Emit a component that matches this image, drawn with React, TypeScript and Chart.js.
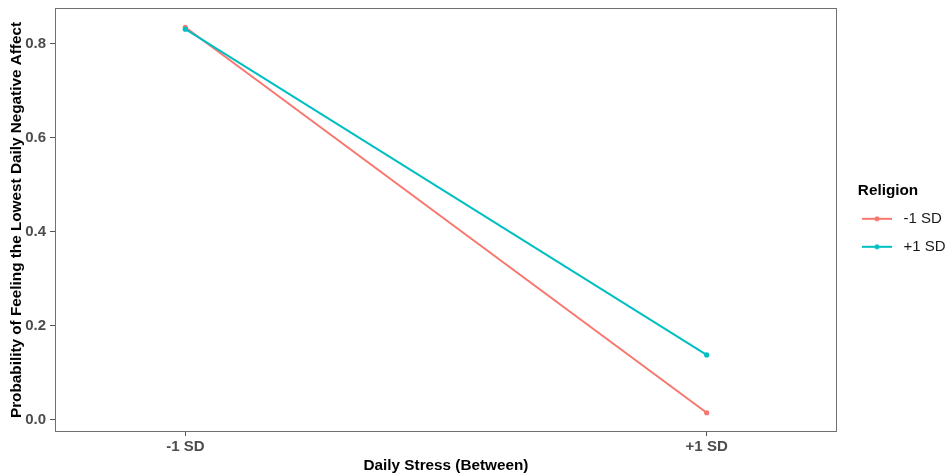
import React, { useEffect, useRef } from 'react';
import { Chart, registerables } from 'chart.js';

Chart.register(...registerables);

// ---- data ----
const categories = ['-1 SD', '+1 SD'];
const xPositions = [1, 2];
const seriesNames = ['-1 SD', '+1 SD'];
const lowReligion = [0.835, 0.015];
const highReligion = [0.831, 0.138];
const yTicks = [0.0, 0.2, 0.4, 0.6, 0.8];
const xTitle = 'Daily Stress (Between)';
const yTitle = 'Probability of Feeling the Lowest Daily Negative Affect';
const legendTitle = 'Religion';

const seriesColors = ['#F8766D', '#00BFC4'];
const FONT = "'Liberation Sans', Arial, sans-serif";

function makeLegendImage(color: string): HTMLCanvasElement {
  const c = document.createElement('canvas');
  c.width = 34;
  c.height = 8;
  const ctx = c.getContext('2d')!;
  ctx.strokeStyle = color;
  ctx.lineWidth = 2;
  ctx.beginPath();
  ctx.moveTo(0, 4);
  ctx.lineTo(30, 4);
  ctx.stroke();
  ctx.fillStyle = color;
  ctx.beginPath();
  ctx.arc(15, 4, 2.5, 0, Math.PI * 2);
  ctx.fill();
  return c;
}

export default function App() {
  const ref = useRef<HTMLCanvasElement | null>(null);

  useEffect(() => {
    document.body.style.margin = '0';
    const canvas = ref.current!;
    const imgs = seriesColors.map(makeLegendImage);

    const panelBorder = {
      id: 'panelBorder',
      afterInit(chart: any) {
        const lg = chart.legend;
        if (lg) {
          const orig = lg.fit.bind(lg);
          lg.fit = () => {
            orig();
            lg.width = 111;
          };
        }
      },
      afterLayout(chart: any) {
        const lg = chart.legend;
        if (lg) {
          lg.left = 849;
          lg.width = 78;
          lg.right = 948;
          lg.top = 183;
          lg.bottom = 475;
        }
      },
      afterDatasetsDraw(chart: any) {
        const { ctx, chartArea } = chart;
        ctx.save();
        ctx.strokeStyle = '#707070';
        ctx.lineWidth = 1;
        ctx.strokeRect(
          Math.round(chartArea.left) + 0.5,
          Math.round(chartArea.top) + 0.5,
          Math.round(chartArea.right - chartArea.left) - 1,
          Math.round(chartArea.bottom - chartArea.top) - 1
        );
        ctx.restore();
      },
    };

    const series = [lowReligion, highReligion];
    const chart = new Chart(canvas, {
      type: 'line',
      data: {
        datasets: series.map((vals, i) => ({
          label: seriesNames[i],
          data: xPositions.map((x, j) => ({ x, y: vals[j] })),
          borderColor: seriesColors[i],
          backgroundColor: seriesColors[i],
          borderWidth: 2,
          pointRadius: 2.6,
          pointBorderWidth: 0,
          pointHoverRadius: 2.6,
          order: i === 0 ? 1 : 0,
          fill: false,
          tension: 0,
        })),
      },
      options: {
        responsive: false,
        animation: false,
        events: [],
        layout: { padding: { top: 8, right: 0, left: 0, bottom: 0 } },
        scales: {
          x: {
            type: 'linear',
            min: 0.75,
            max: 2.25,
            afterBuildTicks: (s: any) => {
              s.ticks = xPositions.map((v) => ({ value: v }));
            },
            afterFit: (s: any) => {
              s.height = 43;
              s.paddingLeft = 0;
              s.paddingRight = 0;
            },
            ticks: {
              callback: (v: any) => {
                const idx = xPositions.indexOf(Number(v));
                return idx >= 0 ? categories[idx] : '';
              },
              font: { family: FONT, size: 15, weight: 'bold' },
              color: '#4D4D4D',
              padding: 2,
              autoSkip: false,
              maxRotation: 0,
            },
            grid: { drawOnChartArea: false, drawTicks: true, tickLength: 4, color: '#555555' },
            border: { display: false },
            title: {
              display: true,
              text: xTitle,
              font: { family: FONT, size: 15.3, weight: 'bold' },
              color: '#000000',
              padding: { top: 0, bottom: 0 },
            },
          },
          y: {
            type: 'linear',
            min: -0.026,
            max: 0.876,
            afterBuildTicks: (s: any) => {
              s.ticks = yTicks.map((v) => ({ value: v }));
            },
            afterFit: (s: any) => {
              s.width = 55;
              s.paddingTop = 0;
              s.paddingBottom = 0;
            },
            ticks: {
              callback: (v: any) => Number(v).toFixed(1),
              font: { family: FONT, size: 15, weight: 'bold' },
              color: '#4D4D4D',
              padding: 4,
            },
            grid: { drawOnChartArea: false, drawTicks: true, tickLength: 5, color: '#555555' },
            border: { display: false },
            title: {
              display: true,
              text: yTitle,
              font: { family: FONT, size: 15.3, weight: 'bold' },
              color: '#000000',
              padding: { top: 8, bottom: 8 },
            },
          },
        },
        plugins: {
          tooltip: { enabled: false },
          legend: {
            position: 'right',
            align: 'start',
            title: {
              display: true,
              text: legendTitle,
              position: 'center',
              font: { family: FONT, size: 15.3, weight: 'bold', lineHeight: 1.0 },
              color: '#000000',
              padding: { top: 0, bottom: 0 },
            },
            labels: {
              usePointStyle: true,
              pointStyleWidth: 34,
              padding: 13,
              color: '#1A1A1A',
              font: { family: FONT, size: 15 },
              generateLabels: (ch: any) =>
                ch.data.datasets.map((ds: any, i: number) => ({
                  text: ds.label,
                  pointStyle: imgs[i],
                  fillStyle: seriesColors[i],
                  strokeStyle: seriesColors[i],
                  lineWidth: 0,
                  hidden: false,
                  datasetIndex: i,
                  fontColor: '#1A1A1A',
                })),
            },
          },
        },
      },
      plugins: [panelBorder],
    } as any);

    return () => chart.destroy();
  }, []);

  return (
    <div style={{ position: 'absolute', left: 0, top: 0, width: 948, height: 475, background: '#ffffff' }}>
      <canvas ref={ref} width={948} height={475} style={{ display: 'block' }} />
    </div>
  );
}
